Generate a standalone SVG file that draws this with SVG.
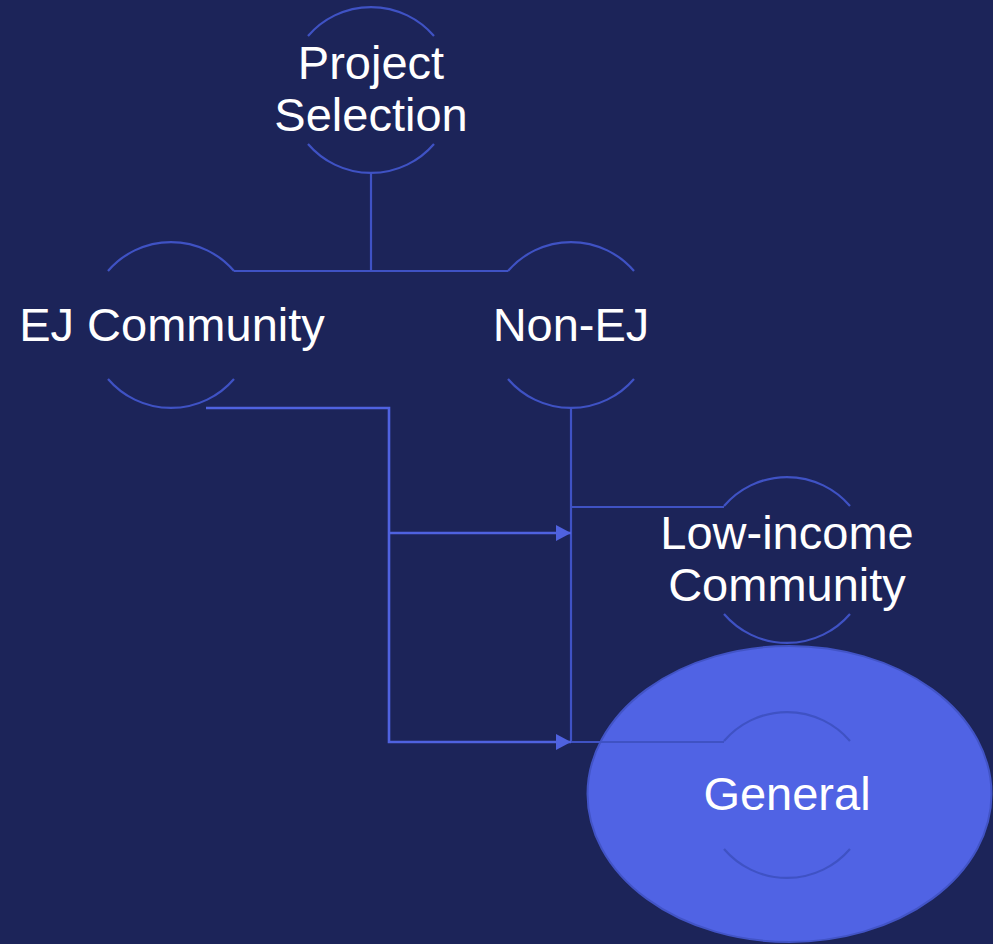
<svg xmlns="http://www.w3.org/2000/svg" width="993" height="944" viewBox="0 0 993 944">
<style>
.arc{fill:none;stroke:#3F52C4;stroke-width:2.2}
.tree{fill:none;stroke:#3F52C4;stroke-width:2.2}
.flow{fill:none;stroke:#4F62E0;stroke-width:2.6}
.lbl{font-family:"Liberation Sans",Arial,sans-serif;font-size:47px;fill:#FFFFFF;text-anchor:middle}
</style>
<defs>
<marker id="arr" markerUnits="userSpaceOnUse" markerWidth="16" markerHeight="16" refX="15" refY="8" orient="auto">
<path d="M0,0 L15,8 L0,16 Z" fill="#4F62E0"/>
</marker>
</defs>
<rect x="0" y="0" width="993" height="944" fill="#1C2459"/>
<ellipse id="highlight" cx="789.5" cy="794" rx="202" ry="148" fill="#5063E4" stroke="#4254C6" stroke-width="2"/>
<g id="node-project">
<path class="arc" d="M308 36 A83 83 0 0 1 434 36"/>
<path class="arc" d="M308 144 A83 83 0 0 0 434 144"/>
<text class="lbl" x="371" y="79">Project</text>
<text class="lbl" x="371" y="131">Selection</text>
</g>
<g id="node-ej">
<path class="arc" d="M108 271 A83 83 0 0 1 234 271"/>
<path class="arc" d="M108 379 A83 83 0 0 0 234 379"/>
<text class="lbl" x="172" y="341">EJ Community</text>
</g>
<g id="node-nonej">
<path class="arc" d="M508 271 A83 83 0 0 1 634 271"/>
<path class="arc" d="M508 379 A83 83 0 0 0 634 379"/>
<text class="lbl" x="571" y="341">Non-EJ</text>
</g>
<g id="node-lowincome">
<path class="arc" d="M724 506 A83 83 0 0 1 850 506"/>
<path class="arc" d="M724 614 A83 83 0 0 0 850 614"/>
<text class="lbl" x="787" y="549">Low-income</text>
<text class="lbl" x="787" y="601">Community</text>
</g>
<g id="node-general">
<path class="arc" d="M724 741 A83 83 0 0 1 850 741"/>
<path class="arc" d="M724 849 A83 83 0 0 0 850 849"/>
<text class="lbl" x="787" y="810">General</text>
</g>
<g id="connectors">
<path class="tree" d="M371 173 V271"/>
<path class="tree" d="M234 271 H508"/>
<path class="tree" d="M571 408 V742"/>
<path class="tree" d="M571 507 H724"/>
<path class="tree" d="M571 742 H724"/>
<path class="flow" d="M206 408 H389 V742 H571" marker-end="url(#arr)"/>
<path class="flow" d="M389 533 H571" marker-end="url(#arr)"/>
</g>
</svg>
